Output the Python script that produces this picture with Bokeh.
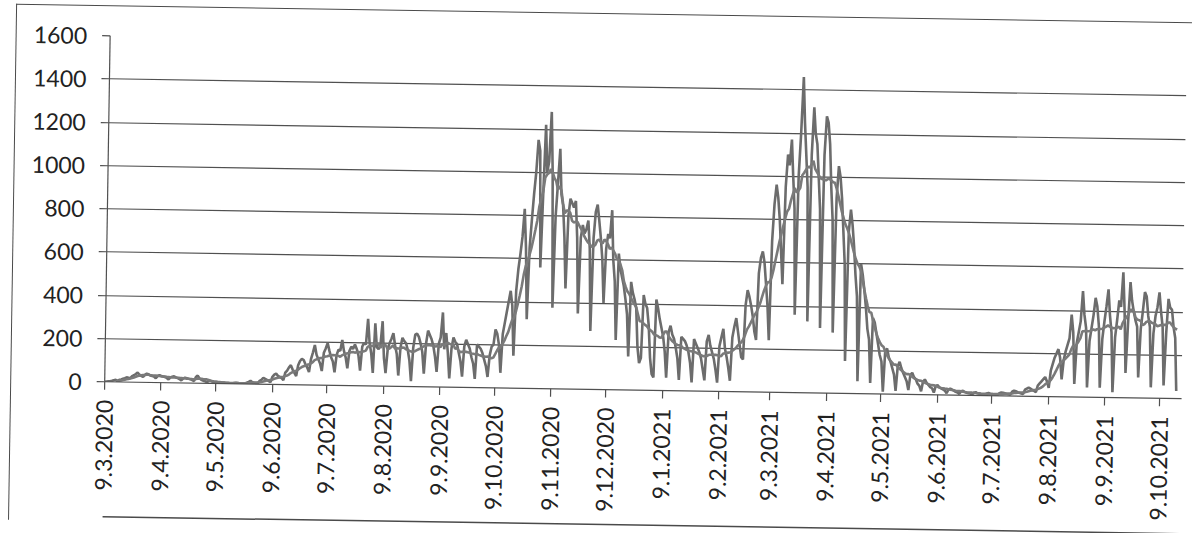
import numpy as np
import pandas as pd
from bokeh.plotting import figure
from bokeh.models import FixedTicker, Range1d, ColumnDataSource, LinearAxis
from bokeh.embed import file_html
from bokeh.resources import INLINE

start_date = "9.3.2020"
tick_labels = ["9.3.2020", "9.4.2020", "9.5.2020", "9.6.2020", "9.7.2020",
               "9.8.2020", "9.9.2020", "9.10.2020", "9.11.2020", "9.12.2020",
               "9.1.2021", "9.2.2021", "9.3.2021", "9.4.2021", "9.5.2021",
               "9.6.2021", "9.7.2021", "9.8.2021", "9.9.2021", "9.10.2021"]
y_ticks = [0, 200, 400, 600, 800, 1000, 1200, 1400, 1600]

# daily cases, one row per week (Mon..Sun)
cases_mar_may_2020 = [
    0, 1, 2, 3, 5, 8, 10,
    5, 10, 12, 15, 18, 22, 20,
    18, 28, 32, 38, 45, 35, 30,
    25, 35, 40, 38, 32, 30, 28,
    20, 30, 35, 30, 28, 26, 22,
    15, 25, 28, 30, 25, 22, 18,
    12, 20, 24, 22, 20, 18, 14,
    10, 28, 35, 22, 16, 12, 10,
    5, 10, 12, 9, 7, 6, 4,
    2, 4, 5, 4, 3, 3, 2,
    1, 3, 5, 4, 3, 2, 2,
    2, 6, 10, 15, 8, 6, 5,
]
cases_jun_aug_2020 = [
    5, 15, 20, 30, 25, 20, 15,
    10, 35, 45, 50, 40, 35, 30,
    20, 55, 65, 80, 90, 70, 55,
    40, 90, 110, 120, 115, 95, 80,
    60, 120, 150, 185, 140, 120, 100,
    65, 150, 170, 195, 160, 130, 110,
    60, 140, 165, 160, 210, 160, 130,
    80, 160, 180, 170, 190, 170, 140,
    70, 180, 200, 190, 310, 200, 150,
    60, 290, 180, 170, 190, 300, 130,
    60, 170, 200, 220, 245, 190, 150,
    50, 180, 225, 210, 200, 170, 120,
    25, 180, 240, 245, 230, 200, 160,
]
cases_sep_nov_2020 = [
    60, 200, 260, 240, 220, 190, 140,
    70, 200, 230, 345, 175, 250, 160,
    40, 180, 230, 210, 200, 160, 120,
    50, 190, 220, 200, 180, 140, 110,
    40, 200, 190, 180, 160, 130, 100,
    50, 150, 190, 200, 270, 250, 200,
    70, 250, 300, 350, 400, 450, 380,
    150, 450, 550, 620, 700, 830, 650,
    320, 650, 780, 900, 1000, 1150, 1100,
    560, 900, 1220, 1000, 1050, 1280, 1000,
    375, 800, 950, 1110, 900, 850, 700,
    465, 800, 880, 860, 840, 870, 700,
    350, 700, 760, 720, 740, 780, 650,
]
cases_dec_2020_feb_2021 = [
    270, 700, 820, 855, 780, 700, 600,
    400, 650, 720, 700, 830, 600, 500,
    230, 630, 560, 520, 480, 420, 350,
    155, 500, 450, 420, 380, 200, 125,
    150, 440, 400, 380, 300, 150, 75,
    60, 420, 380, 330, 290, 250, 180,
    60, 270, 300, 260, 240, 200, 150,
    50, 250, 240, 230, 210, 180, 130,
    40, 240, 220, 200, 180, 150, 100,
    50, 230, 260, 210, 180, 150, 100,
    40, 210, 250, 290, 200, 160, 110,
    50, 250, 300, 340, 280, 220, 160,
    150, 400, 470, 440, 400, 350, 280,
]
cases_mar_may_2021 = [
    240, 550, 620, 650, 600, 500, 400,
    240, 700, 870, 960, 900, 800, 650,
    500, 950, 1100, 1050, 1170, 1000, 850,
    360, 1000, 1200, 1460, 1250, 1100, 950,
    330, 1100, 1320, 1200, 1150, 1000, 850,
    300, 1100, 1280, 1250, 1150, 950, 800,
    280, 900, 1050, 1000, 900, 750, 600,
    150, 750, 850, 780, 680, 550, 450,
    57, 600, 550, 480, 400, 300, 250,
    50, 350, 330, 280, 230, 180, 150,
    10, 200, 210, 170, 150, 120, 90,
    15, 130, 150, 120, 100, 80, 60,
    20, 90, 100, 80, 70, 50, 40,
]
cases_jun_aug_2021 = [
    15, 60, 70, 55, 45, 35, 30,
    10, 40, 45, 35, 30, 25, 20,
    8, 25, 30, 25, 20, 15, 12,
    6, 18, 20, 15, 12, 10, 8,
    4, 12, 15, 10, 8, 6, 5,
    3, 10, 12, 9, 8, 6, 5,
    4, 12, 15, 14, 12, 10, 8,
    6, 20, 25, 22, 18, 15, 12,
    10, 30, 35, 40, 35, 30, 25,
    20, 50, 60, 70, 80, 90, 70,
    40, 120, 150, 180, 200, 220, 180,
    80, 170, 210, 240, 270, 380, 300,
    60, 250, 300, 350, 490, 380, 320,
]
cases_sep_oct_2021 = [
    45, 260, 320, 380, 460, 420, 330,
    45, 270, 350, 420, 500, 380, 300,
    25, 280, 360, 450, 420, 580, 400,
    115, 350, 535, 450, 400, 360, 330,
    95, 320, 400, 490, 470, 380, 330,
    50, 300, 380, 420, 490, 400, 330,
    60, 300, 460, 420, 410, 330, 280,
    35,
]

cases = (cases_mar_may_2020 + cases_jun_aug_2020 + cases_sep_nov_2020 +
         cases_dec_2020_feb_2021 + cases_mar_may_2021 + cases_jun_aug_2021 +
         cases_sep_oct_2021)
day = np.arange(len(cases))
t0 = pd.to_datetime(start_date, format="%d.%m.%Y")
tick_days = [int((pd.to_datetime(s, format="%d.%m.%Y") - t0).days) for s in tick_labels]
ma7 = pd.Series(cases, dtype=float).rolling(7).mean()

src = ColumnDataSource(dict(day=day, cases=cases, ma=ma7.values))

p = figure(frame_width=1077, frame_height=346,
           x_range=Range1d(0, 591), y_range=Range1d(0, 1600),
           output_backend="svg", toolbar_location=None,
           min_border_left=93, min_border_right=5, min_border_top=29, min_border_bottom=140,
           background_fill_color="white", border_fill_color="white",
           outline_line_color=None)
p.styles = {"box-sizing": "content-box",
            "border-left": "1.5px solid #4a4a4a", "border-top": "1.5px solid #4a4a4a",
            "margin-left": "12px", "margin-top": "13px",
            "transform": "rotate(0.9deg)"}

p.line("day", "cases", source=src, line_color="#6c6c6c", line_width=2.6)
p.line("day", "ma", source=src, line_color="#7a7a7a", line_width=2.6)

p.yaxis.ticker = FixedTicker(ticks=y_ticks)
p.ygrid.ticker = FixedTicker(ticks=y_ticks)
xa = p.xaxis[0]
xa.ticker = FixedTicker(ticks=tick_days)
xa.major_label_overrides = {d: s for d, s in zip(tick_days, tick_labels)}
xa.major_label_orientation = np.pi / 2
xa.axis_label = " "
xa.axis_label_text_font_size = "4px"
xa.axis_label_standoff = 2
p.xgrid.visible = False
p.ygrid.grid_line_color = "#505050"
p.ygrid.grid_line_width = 1.2

for ax in (xa, p.yaxis[0]):
    ax.axis_line_color = "#505050"
    ax.axis_line_width = 1.2
    ax.major_tick_line_color = "#505050"
    ax.major_tick_line_width = 1.2
    ax.major_tick_out = 8
    ax.major_tick_in = 0
    ax.minor_tick_line_color = None
    ax.major_label_text_font = "Lato"
    ax.major_label_text_color = "#222222"
p.yaxis.major_label_text_font_size = "23px"
xa.major_label_text_font_size = "23px"
p.yaxis.major_label_standoff = 15
xa.major_label_standoff = 10

# bottom edge of the chart box
box_bottom = LinearAxis(ticker=FixedTicker(ticks=[]), axis_line_color="#4a4a4a",
                        axis_line_width=1.5, major_tick_line_color=None,
                        minor_tick_line_color=None, major_label_text_font_size="0px")
p.add_layout(box_bottom, "below")

open("out.html", "w").write(file_html(p, INLINE))
